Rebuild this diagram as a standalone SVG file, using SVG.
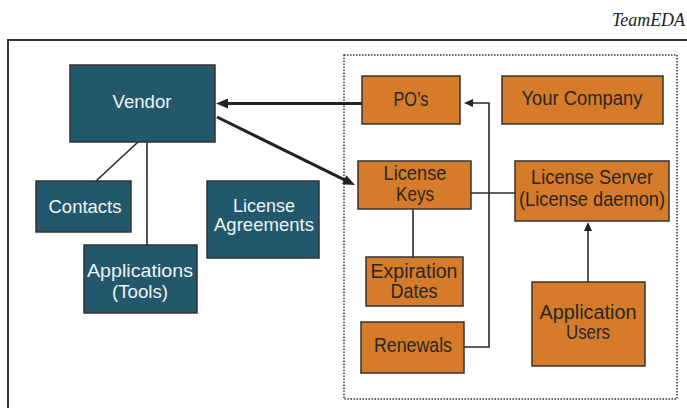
<svg xmlns="http://www.w3.org/2000/svg" width="687" height="408" viewBox="0 0 687 408">
<defs>
<style>
.teal{fill:#23576b;stroke:#333;stroke-width:1.5}
.orange{fill:#d57b29;stroke:#333;stroke-width:1.5}
.tt{font-family:"Liberation Sans",Arial,sans-serif;font-size:19px;fill:#eef3f5;text-anchor:middle}
.ot{font-family:"Liberation Sans",Arial,sans-serif;font-size:20px;fill:#2a2622;text-anchor:middle}
.thick{stroke:#222;stroke-width:3;fill:none}
.thin{stroke:#2a2a2a;stroke-width:1.6;fill:none}
</style>
<marker id="ah" markerUnits="userSpaceOnUse" markerWidth="12" markerHeight="10" refX="6" refY="5" orient="auto"><path d="M0,0 L12,5 L0,10 z" fill="#222"/></marker>
<marker id="as" markerUnits="userSpaceOnUse" markerWidth="9" markerHeight="8" refX="4" refY="4" orient="auto"><path d="M0,0 L9,4 L0,8 z" fill="#222"/></marker>
</defs>
<rect width="687" height="408" fill="#fff"/>
<text x="685" y="26" font-family="'Liberation Serif',serif" font-style="italic" font-size="18" fill="#222" text-anchor="end" textLength="73" lengthAdjust="spacingAndGlyphs">TeamEDA</text>
<path d="M8,410 V40 H690" fill="none" stroke="#333" stroke-width="2"/>
<rect x="344" y="55" width="333" height="344" fill="none" stroke="#333" stroke-width="1.5" stroke-dasharray="1.5,1.5"/>
<g id="connectors">
<line class="thick" x1="362" y1="103.5" x2="222" y2="103.5" marker-end="url(#ah)"/>
<line class="thick" x1="217" y1="117" x2="349.6" y2="182.3" marker-end="url(#ah)"/>
<line class="thin" x1="138" y1="142" x2="96" y2="181"/>
<line class="thin" x1="147" y1="142" x2="147" y2="245"/>
<line class="thin" x1="413" y1="209" x2="413" y2="257"/>
<line class="thin" x1="471" y1="193" x2="515" y2="193"/>
<path class="thin" d="M464,347 H489 V103 H469" marker-end="url(#as)"/>
<path class="thin" d="M588,282 V227" marker-end="url(#as)"/>
</g>
<g id="vendor"><rect class="teal" x="70" y="65" width="145" height="77"/><text class="tt" x="142" y="108" font-size="20" textLength="59" lengthAdjust="spacingAndGlyphs">Vendor</text></g>
<g id="contacts"><rect class="teal" x="36" y="181" width="95" height="51"/><text class="tt" x="85" y="213" font-size="20" textLength="73" lengthAdjust="spacingAndGlyphs">Contacts</text></g>
<g id="applications"><rect class="teal" x="84" y="245" width="113" height="68"/><text class="tt" x="140" y="277" textLength="106" lengthAdjust="spacingAndGlyphs">Applications</text><text class="tt" x="140" y="298" textLength="56" lengthAdjust="spacingAndGlyphs">(Tools)</text></g>
<g id="license-agreements"><rect class="teal" x="207" y="181" width="112" height="77"/><text class="tt" x="264" y="212" textLength="62" lengthAdjust="spacingAndGlyphs">License</text><text class="tt" x="264" y="231" textLength="100" lengthAdjust="spacingAndGlyphs">Agreements</text></g>
<g id="pos"><rect class="orange" x="362" y="76" width="98" height="48"/><text class="ot" x="411" y="106" textLength="35" lengthAdjust="spacingAndGlyphs">PO’s</text></g>
<g id="your-company"><rect class="orange" x="502" y="76" width="161" height="48"/><text class="ot" x="582" y="105" textLength="121" lengthAdjust="spacingAndGlyphs">Your Company</text></g>
<g id="license-keys"><rect class="orange" x="358" y="161" width="113" height="48"/><text class="ot" x="415" y="180" textLength="63" lengthAdjust="spacingAndGlyphs">License</text><text class="ot" x="415" y="201" textLength="38" lengthAdjust="spacingAndGlyphs">Keys</text></g>
<g id="license-server"><rect class="orange" x="515" y="161" width="154" height="60"/><text class="ot" x="592" y="184" textLength="122" lengthAdjust="spacingAndGlyphs">License Server</text><text class="ot" x="592" y="206" textLength="146" lengthAdjust="spacingAndGlyphs">(License daemon)</text></g>
<g id="expiration-dates"><rect class="orange" x="366" y="257" width="97" height="49"/><text class="ot" x="414" y="278" textLength="87" lengthAdjust="spacingAndGlyphs">Expiration</text><text class="ot" x="414" y="298" textLength="47" lengthAdjust="spacingAndGlyphs">Dates</text></g>
<g id="renewals"><rect class="orange" x="361" y="322" width="103" height="51"/><text class="ot" x="413" y="352" textLength="78" lengthAdjust="spacingAndGlyphs">Renewals</text></g>
<g id="application-users"><rect class="orange" x="532" y="282" width="113" height="84"/><text class="ot" x="588" y="319" textLength="97" lengthAdjust="spacingAndGlyphs">Application</text><text class="ot" x="588" y="339" textLength="44" lengthAdjust="spacingAndGlyphs">Users</text></g>
</svg>
